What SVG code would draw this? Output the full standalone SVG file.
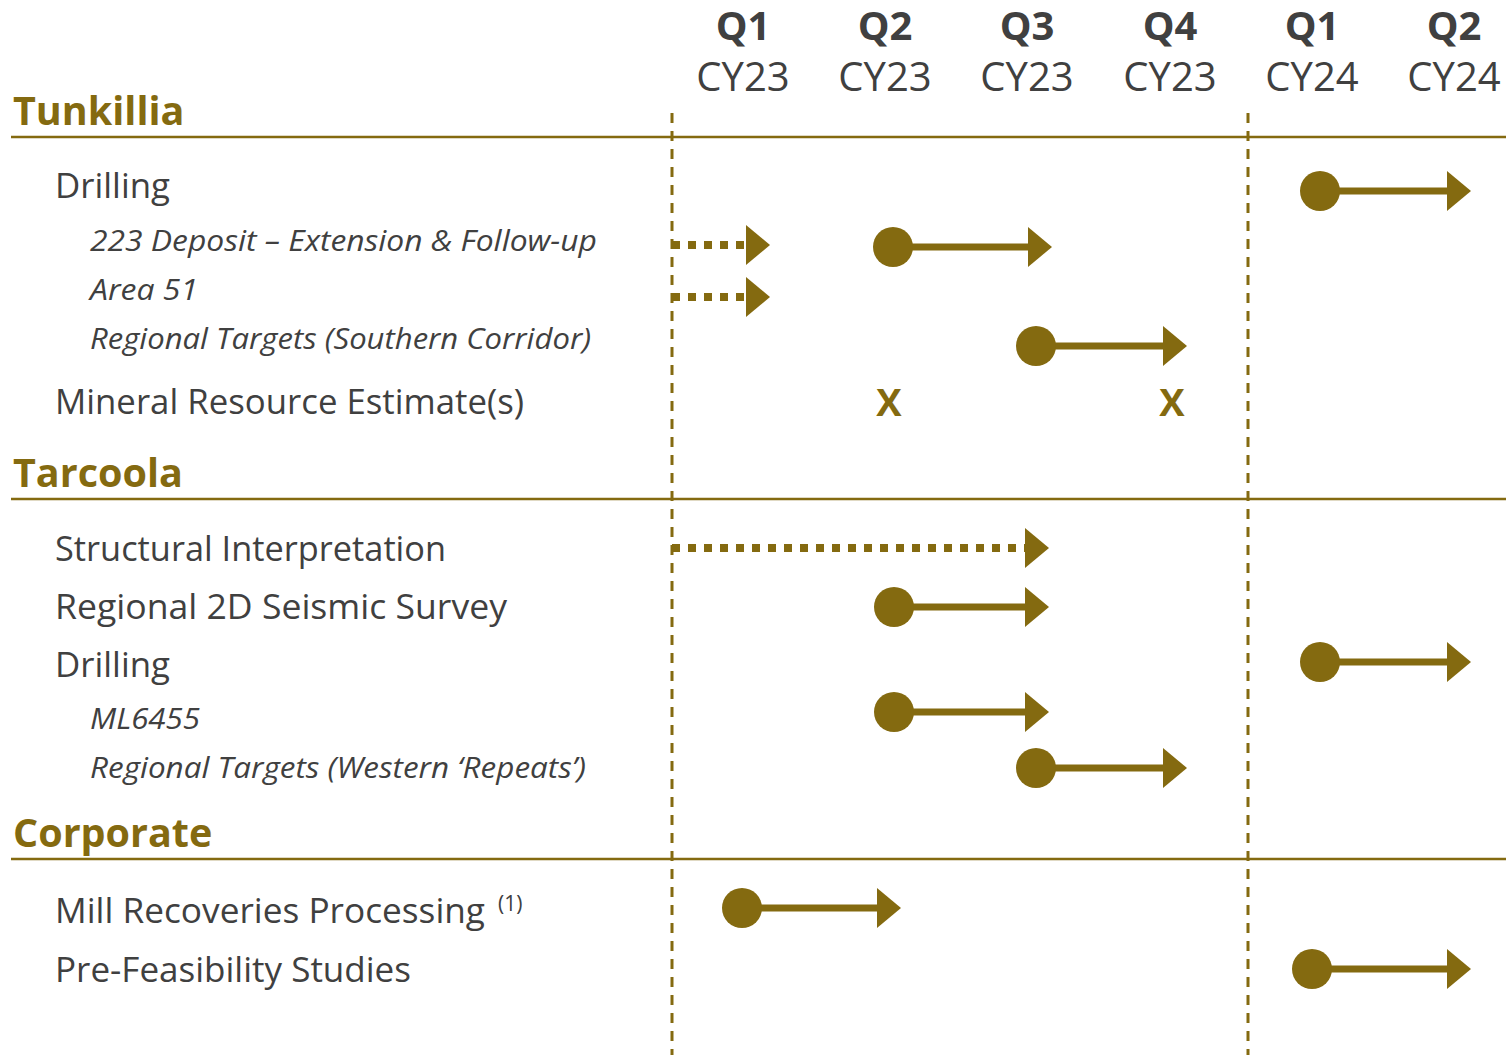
<svg xmlns="http://www.w3.org/2000/svg" width="1506" height="1055" viewBox="0 0 1506 1055">
<defs>
<style>
.hq{font-family:"Open Sans","Noto Sans",sans-serif;font-weight:700;font-size:40px;fill:#404040;text-anchor:middle}
.hy{font-family:"Open Sans","Noto Sans",sans-serif;font-size:40px;fill:#404040;text-anchor:middle}
.sec{font-family:"Open Sans","Noto Sans",sans-serif;font-weight:700;font-size:39.5px;fill:#846A10}
.item{font-family:"Open Sans","Noto Sans",sans-serif;font-size:34.5px;fill:#404040}
.sub{font-family:"Open Sans","Noto Sans",sans-serif;font-style:italic;font-size:30px;fill:#404040}
.sup{font-family:"Open Sans","Noto Sans",sans-serif;font-size:21px;fill:#404040}
.x{font-family:"Open Sans","Noto Sans",sans-serif;font-weight:700;font-size:38px;fill:#846A10;text-anchor:middle}
.rule{stroke:#846A10;stroke-width:2.6;fill:none}
.vdash{stroke:#846A10;stroke-width:3;stroke-dasharray:10 8;fill:none}
.bar{stroke:#846A10;stroke-width:7;fill:none;marker-start:url(#dot);marker-end:url(#tri)}
.dots{stroke:#846A10;stroke-width:8;stroke-dasharray:8 8;fill:none;marker-end:url(#tri)}
</style>
<marker id="dot" markerUnits="userSpaceOnUse" markerWidth="42" markerHeight="42" refX="21" refY="21" orient="auto"><circle cx="21" cy="21" r="20" fill="#846A10"/></marker>
<marker id="tri" markerUnits="userSpaceOnUse" markerWidth="24" markerHeight="40" refX="0" refY="20" orient="auto"><path d="M0,0 L24,20 L0,40 Z" fill="#846A10"/></marker>
</defs>
<rect width="1506" height="1055" fill="#ffffff"/>

<g id="header">
<text class="hq" x="743" y="40">Q1</text><text class="hy" x="743" y="91">CY23</text>
<text class="hq" x="885" y="40">Q2</text><text class="hy" x="885" y="91">CY23</text>
<text class="hq" x="1027" y="40">Q3</text><text class="hy" x="1027" y="91">CY23</text>
<text class="hq" x="1170" y="40">Q4</text><text class="hy" x="1170" y="91">CY23</text>
<text class="hq" x="1312" y="40">Q1</text><text class="hy" x="1312" y="91">CY24</text>
<text class="hq" x="1454" y="40">Q2</text><text class="hy" x="1454" y="91">CY24</text>
</g>

<g id="tunkillia">
<text class="sec" x="13" y="125">Tunkillia</text>
<text class="item" x="55" y="198" textLength="115" lengthAdjust="spacingAndGlyphs">Drilling</text>
<text class="sub" x="90" y="251" textLength="507" lengthAdjust="spacingAndGlyphs">223 Deposit – Extension &amp; Follow-up</text>
<text class="sub" x="90" y="300" textLength="108" lengthAdjust="spacingAndGlyphs">Area 51</text>
<text class="sub" x="90" y="349" textLength="501" lengthAdjust="spacingAndGlyphs">Regional Targets (Southern Corridor)</text>
<text class="item" x="55" y="414" textLength="469" lengthAdjust="spacingAndGlyphs">Mineral Resource Estimate(s)</text>
<text class="x" x="889" y="416">X</text>
<text class="x" x="1172" y="416">X</text>
</g>

<g id="tarcoola">
<text class="sec" x="13" y="487">Tarcoola</text>
<text class="item" x="55" y="561" textLength="391" lengthAdjust="spacingAndGlyphs">Structural Interpretation</text>
<text class="item" x="55" y="619" textLength="452" lengthAdjust="spacingAndGlyphs">Regional 2D Seismic Survey</text>
<text class="item" x="55" y="677" textLength="115" lengthAdjust="spacingAndGlyphs">Drilling</text>
<text class="sub" x="90" y="729" textLength="110" lengthAdjust="spacingAndGlyphs">ML6455</text>
<text class="sub" x="90" y="778" textLength="496" lengthAdjust="spacingAndGlyphs">Regional Targets (Western ‘Repeats’)</text>
</g>

<g id="corporate">
<text class="sec" x="13" y="847">Corporate</text>
<text class="item" x="55" y="923" textLength="430" lengthAdjust="spacingAndGlyphs">Mill Recoveries Processing</text>
<text class="sup" x="498" y="911">(1)</text>
<text class="item" x="55" y="982" textLength="356" lengthAdjust="spacingAndGlyphs">Pre-Feasibility Studies</text>
</g>

<g id="connectors">
<line class="rule" x1="11" y1="137" x2="1506" y2="137"/>
<line class="rule" x1="11" y1="499" x2="1506" y2="499"/>
<line class="rule" x1="11" y1="859" x2="1506" y2="859"/>
<line class="vdash" x1="672" y1="113" x2="672" y2="1055"/>
<line class="vdash" x1="1248" y1="113" x2="1248" y2="1055"/>

<line class="bar" x1="1320" y1="191" x2="1447" y2="191"/>
<line class="dots" x1="672" y1="245" x2="746" y2="245"/>
<line class="bar" x1="893" y1="247" x2="1028" y2="247"/>
<line class="dots" x1="672" y1="297" x2="746" y2="297"/>
<line class="bar" x1="1036" y1="346" x2="1163" y2="346"/>

<line class="dots" x1="672" y1="548" x2="1025" y2="548"/>
<line class="bar" x1="894" y1="607" x2="1025" y2="607"/>
<line class="bar" x1="1320" y1="662" x2="1447" y2="662"/>
<line class="bar" x1="894" y1="712" x2="1025" y2="712"/>
<line class="bar" x1="1036" y1="768" x2="1163" y2="768"/>

<line class="bar" x1="742" y1="908" x2="877" y2="908"/>
<line class="bar" x1="1312" y1="969" x2="1447" y2="969"/>
</g>
</svg>
